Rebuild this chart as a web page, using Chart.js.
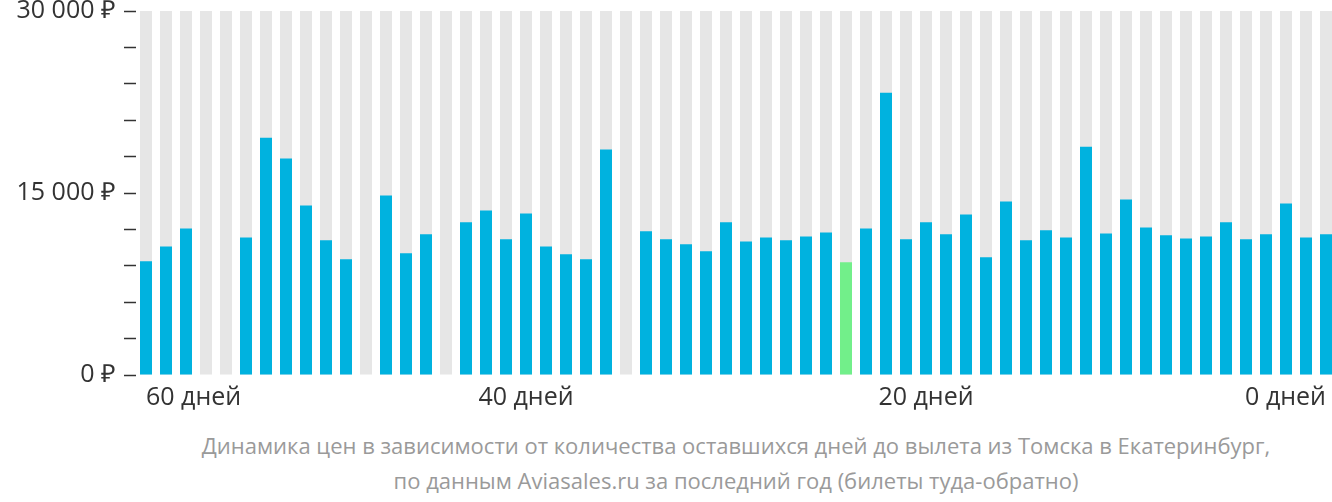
<!DOCTYPE html>
<html><head><meta charset="utf-8">
<script src="https://cdn.jsdelivr.net/npm/chart.js@4/dist/chart.umd.min.js"></script>
<style>
body{margin:0;background:#fff;font-family:"Open Sans",sans-serif;overflow:hidden;}
#wrap{position:absolute;left:0;top:-12px;width:1336px;height:425px;}
#cap{position:absolute;left:140px;width:1192px;top:428px;text-align:center;color:#9a9a9a;font-size:22px;line-height:35px;white-space:nowrap;}
</style></head><body>
<div id="wrap"><canvas id="c"></canvas></div>
<div id="cap">Динамика цен в зависимости от количества оставшихся дней до вылета из Томска в Екатеринбург,<br>по данным Aviasales.ru за последний год (билеты туда-обратно)</div>
<script>
const days = Array.from({length:60},(_,i)=>59-i);
const prices = [9370,10600,12080,null,null,11340,19560,17840,13970,11100,9530,null,14790,10030,11590,null,12580,13560,11180,13320,10600,9950,9530,18580,null,11840,11180,10770,10190,12580,11010,11340,11100,11420,11750,9290,12080,23260,11180,12580,11590,13230,9700,14300,11100,11920,11340,18820,11670,14470,12160,11510,11260,11420,12580,11180,11590,14140,11340,11590];
const highlightIndex = 35;
const xTickLabels = {0:'60 дней',19:'40 дней',39:'20 дней',59:'0 дней'};
const yLabeled = [0,15000,30000];
const bg = days.map(()=>30000);
const colors = prices.map((v,i)=>i===highlightIndex?'#72ef8a':'#00b2df');
new Chart(document.getElementById('c'),{
 type:'bar',
 data:{labels:days,datasets:[
  {data:prices,backgroundColor:colors,order:1,barPercentage:0.6,categoryPercentage:1},
  {data:bg,backgroundColor:'#e6e6e6',order:2,barPercentage:0.6,categoryPercentage:1}
 ]},
 options:{responsive:true,maintainAspectRatio:false,animation:false,
  layout:{padding:{top:8,right:0,left:0}},
  plugins:{legend:{display:false},tooltip:{enabled:false}},
  datasets:{bar:{grouped:false}},
  scales:{
   x:{grid:{display:false},border:{display:false},
      ticks:{autoSkip:false,maxRotation:0,align:'inner',color:'#333',font:{family:'Open Sans',size:25},padding:0,
        callback:(v,i)=>xTickLabels[i]||''}},
   y:{min:0,max:30000,afterFit:s=>{s.width=136;},
      grid:{drawOnChartArea:false,tickLength:12,color:'#333',tickWidth:1.5},border:{display:false},
      ticks:{stepSize:3000,color:'#333',font:{family:'Open Sans',size:25},padding:8,
        callback:v=>yLabeled.includes(v)?(v===0?'0 ₽':v.toLocaleString('ru-RU').replace(/\s/g,' ')+' ₽'):''}}
  }}
});
</script></body></html>
